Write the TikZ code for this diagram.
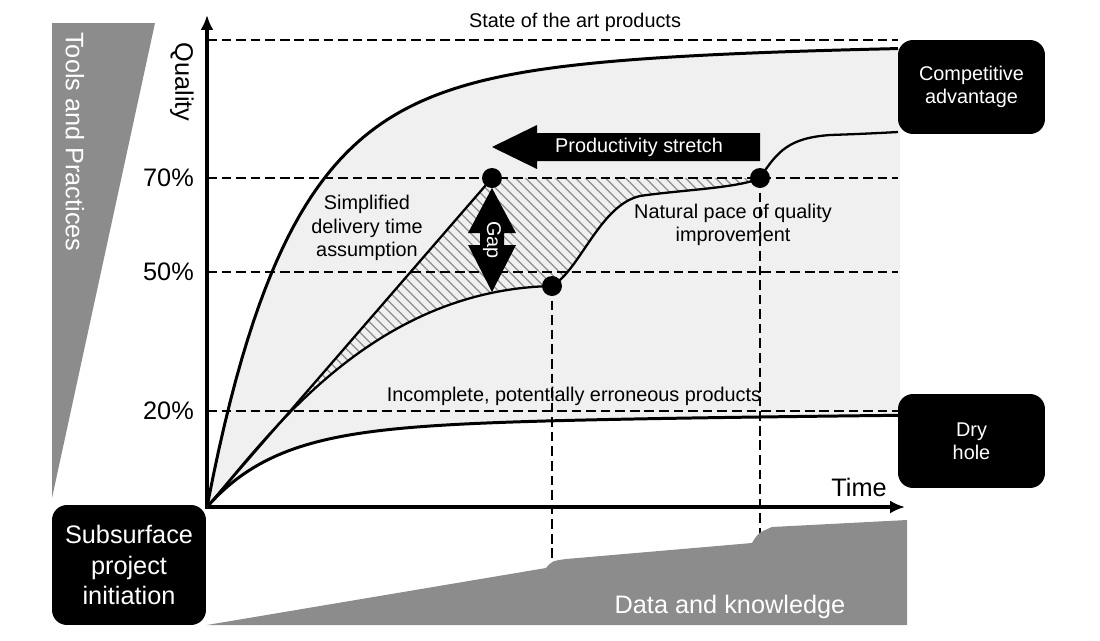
\documentclass[tikz,border=0pt]{standalone}
\usepackage{fontspec}
\setmainfont{Liberation Sans}
\usepackage{tikz}
\usetikzlibrary{arrows.meta}
\usetikzlibrary{patterns.meta}

\begin{document}
\begin{tikzpicture}[x=0.02cm,y=-0.02cm,small text/.style={font=\fontsize{11.3}{13.3}\selectfont, align=center},big text/.style={font=\fontsize{14.4}{17.6}\selectfont, align=center},dark box/.style={fill=black, text=white, rounded corners=0.3cm, align=center, inner sep=0pt},main dot/.style={circle, fill=black, minimum size=0.4cm, inner sep=0pt},guide/.style={dash pattern=on 5.5pt off 2.8pt, line width=1.1pt}]
			\useasboundingbox (0,0) rectangle (1100,640);
			
			% Points
			\coordinate (O) at (207,507);
			\coordinate (a) at (492,178);
			\coordinate (b) at (552,286);
			\coordinate (c) at (760,178);
			
			% light band between the best and the worst curve
			\fill[black!6] (O) -- plot[domain=0:693, samples=120] ({207+\x}, {507-400*(1-exp(-\x/80))-65*(1-exp(-\x/300))}) -- plot[domain=693:0, samples=120] ({207+\x}, {507-78*(1-exp(-\x/70))-20*(1-exp(-\x/600))}) -- cycle;
			
			% hatched gap
			\fill[pattern={Lines[angle=-45,distance=4pt,line width=0.9pt]}, pattern color=black!40] (O) -- (a) -- (c) .. controls (740,188) and (680,190) .. (640,196) .. controls (600,205) and (580,270) .. (b) .. controls (370,290) and (267,438) .. (O) -- cycle;
			
			% dashed levels
			\draw[guide] (207,40) -- (898,40);
			\draw[guide] (207,178) -- (898,178);
			\draw[guide] (207,272) -- (898,272);
			\draw[guide] (207,411) -- (898,411);
			\draw[guide] (b) -- (552,566);
			\draw[guide] (c) -- (760,538);
			
			% curves
			\draw[line width=1.7pt] plot[domain=0:691, samples=120] ({207+\x}, {507-400*(1-exp(-\x/80))-65*(1-exp(-\x/300))});
			\draw[line width=1.7pt] plot[domain=0:691, samples=120] ({207+\x}, {507-78*(1-exp(-\x/70))-20*(1-exp(-\x/600))});
			\draw[line width=1.3pt] (O) .. controls (267,438) and (370,290) .. (b) .. controls (580,270) and (600,205) .. (640,196) .. controls (680,190) and (740,188) .. (c) .. controls (778,150) and (790,138) .. (830,135) .. controls (860,134) and (880,133) .. (898,132);
			\draw[line width=1.3pt] (O) -- (a);
			
			% axes
			\draw[line width=1.9pt, {Latex[length=8.5pt,width=7.4pt]}-{Latex[length=8.5pt,width=7.4pt]}] (207,15) -- (O) -- (905,507);
			
			% grey wedges
			\fill[black!45] (52,23) -- (155,23) -- (52,498) -- cycle;
			\fill[black!45] (207,625) -- (546,568) .. controls (552,561) .. (566,559) -- (752,543) .. controls (758,533) .. (772,527) -- (907,520) -- (907,625) -- cycle;
			
			% arrows
			\fill (492,147) -- (537,125) -- (537,133) -- (760,133) -- (760,161) -- (537,161) -- (537,169) -- cycle;
			\fill (492,188) -- (516,233) -- (504,233) -- (504,245) -- (516,245) -- (492,292) -- (468,245) -- (480,245) -- (480,233) -- (468,233) -- cycle;
			
			% Nodes
			\node[main dot] (1) at (a) {};
			\node[main dot] (2) at (b) {};
			\node[main dot] (3) at (c) {};
			\node[dark box, small text, minimum width=2.94cm, minimum height=1.88cm] (4) at (971.5,87) {Competitive\\advantage};
			\node[dark box, small text, minimum width=2.94cm, minimum height=1.88cm] (5) at (971.5,441) {Dry\\hole};
			\node[dark box, big text, minimum width=3.08cm, minimum height=2.4cm] (6) at (129,565) {Subsurface\\project\\initiation};
			
			\node[small text, text=white] (7) at (639,147) {Productivity stretch};
			\node[small text, text=white, rotate=-90] (8) at (492,240) {Gap};
			\node[small text] (9) at (575,22) {State of the art products};
			\node[small text] (10) at (367,228) {Simplified\\delivery time\\assumption};
			\node[small text] (11) at (733,225) {Natural pace of quality\\improvement};
			\node[small text] (12) at (574,396) {Incomplete, potentially erroneous products};
			
			\node[big text, rotate=-90] (13) at (182,82) {Quality};
			\node[big text, anchor=east] (14) at (200,178) {70\%};
			\node[big text, anchor=east] (15) at (200,272) {50\%};
			\node[big text, anchor=east] (16) at (200,411) {20\%};
			\node[big text] (17) at (859,487) {Time};
			\node[big text, text=white, rotate=-90] (18) at (75,142) {Tools and Practices};
			\node[big text, text=white] (19) at (730,607) {Data and knowledge};
			
		\end{tikzpicture}
\end{document}
